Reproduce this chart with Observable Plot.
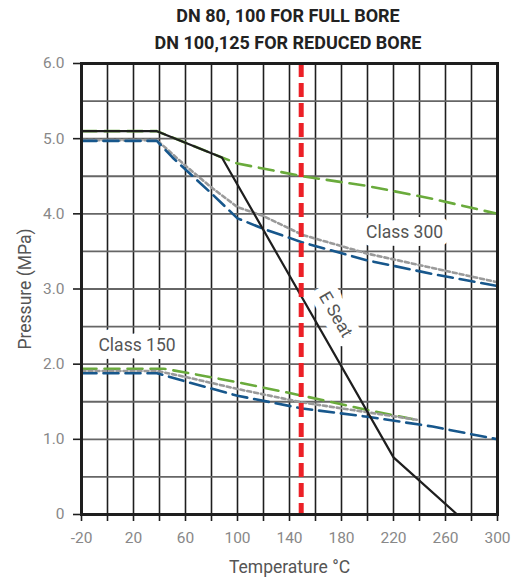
<!DOCTYPE html>
<html><head><meta charset="utf-8">
<script src="https://cdn.jsdelivr.net/npm/d3@7"></script>
<script src="https://cdn.jsdelivr.net/npm/@observablehq/plot@0.6"></script>
<style>
body{margin:0;background:#fff;font-family:Roboto,"DejaVu Sans",sans-serif;}
#title{height:55px;box-sizing:border-box;padding-top:2px;padding-left:61px;text-align:center;font-weight:bold;font-size:18px;color:#222;line-height:27px;}
#chart svg{display:block;}
</style></head><body>
<div id="title"><div>DN 80, 100 FOR FULL BORE</div><div>DN 100,125 FOR REDUCED BORE</div></div>
<div id="chart"></div>
<script>
// ---- data ----
const eSeatT = [-20, 38, 88, 220, 269];
const eSeatP = [5.1, 5.1, 4.75, 0.76, 0];

const c300GreenT = [-20, 38, 88, 100, 150, 200, 250, 300];
const c300GreenP = [5.1, 5.1, 4.75, 4.67, 4.5, 4.37, 4.2, 4.0];
const c300GrayT = [-20, 38, 60, 80, 100, 120, 150, 200, 250, 300];
const c300GrayP = [4.98, 4.98, 4.64, 4.35, 4.09, 3.97, 3.72, 3.47, 3.28, 3.09];
const c300BlueT = [-20, 38, 50, 80, 100, 120, 150, 200, 250, 300];
const c300BlueP = [4.97, 4.97, 4.75, 4.27, 3.94, 3.80, 3.62, 3.38, 3.2, 3.04];

const c150GreenT = [-20, 43, 60, 100, 150, 200, 240];
const c150GreenP = [1.94, 1.94, 1.89, 1.76, 1.58, 1.39, 1.25];
const c150GrayT = [-20, 38, 60, 100, 150, 200, 238];
const c150GrayP = [1.91, 1.91, 1.83, 1.67, 1.49, 1.36, 1.26];
const c150BlueT = [-20, 38, 60, 100, 150, 200, 250, 300];
const c150BlueP = [1.88, 1.88, 1.77, 1.58, 1.41, 1.3, 1.17, 1.0];

const designTemp = [149];
const xTicks = [-20, 0, 20, 40, 60, 80, 100, 120, 140, 160, 180, 200, 220, 240, 260, 280, 300];
const xLabels = [-20, 20, 60, 100, 140, 180, 220, 260, 300];
const yTicks = [0, 1, 2, 3, 4, 5, 6];
const yGrid = [0.5, 1, 1.5, 2, 2.5, 3, 3.5, 4, 4.5, 5, 5.5];

const labels = [
  {text: "Class 300", t: 228.5, p: 3.75, rotate: 0},
  {text: "Class 150", t: 22.7, p: 2.25, rotate: 0},
  {text: "E Seat", t: 175.5, p: 2.66, rotate: 60}
];

const toRows = (T, P) => T.map((t, i) => ({t, p: P[i]}));

const styles = {
  green: {stroke: "#6aab3c", strokeWidth: 2.6, strokeDasharray: "15,8"},
  gray: {stroke: "#9a9a9a", strokeWidth: 2.6, strokeDasharray: "4,3"},
  blue: {stroke: "#17578c", strokeWidth: 2.6, strokeDasharray: "15,7"},
  black: {stroke: "#1e1e1e", strokeWidth: 2.2}
};

const lineMark = (T, P, s) => Plot.line(toRows(T, P), {x: "t", y: "p", ...styles[s], strokeLinejoin: "round"});

const chart = Plot.plot({
  width: 515,
  height: 523,
  marginTop: 8,
  marginBottom: 64,
  marginLeft: 81,
  marginRight: 18,
  style: {fontFamily: "Roboto, 'DejaVu Sans', sans-serif", fontSize: "15.5px", background: "#fff"},
  x: {domain: [-20, 300]},
  y: {domain: [0, 6]},
  marks: [
    Plot.ruleX(xTicks, {stroke: "#1e1e1e", strokeWidth: 1.6}),
    Plot.ruleY(yGrid, {stroke: "#666", strokeWidth: 1.8}),
    Plot.text(labels, {x: "t", y: "p", text: "text", rotate: "rotate", fontSize: 17.5, fill: "white", stroke: "white", strokeWidth: 16}),
    lineMark(c300GreenT, c300GreenP, "green"),
    lineMark(c300GrayT, c300GrayP, "gray"),
    lineMark(c300BlueT, c300BlueP, "blue"),
    lineMark(c150GreenT, c150GreenP, "green"),
    lineMark(c150GrayT, c150GrayP, "gray"),
    lineMark(c150BlueT, c150BlueP, "blue"),
    lineMark(eSeatT, eSeatP, "black"),
    Plot.ruleX(designTemp, {stroke: "#ec2027", strokeWidth: 5, strokeDasharray: "14,6"}),
    Plot.text(labels, {x: "t", y: "p", text: "text", rotate: "rotate", fontSize: 17.5, fill: "#555"}),
    Plot.frame({stroke: "#1e1e1e", strokeWidth: 3}),
    Plot.axisX({ticks: xTicks, tickSize: 7, tickPadding: 10, stroke: "#1e1e1e", strokeWidth: 1.6, fill: "#888",
      tickFormat: d => xLabels.includes(d) ? String(d) : "", label: null}),
    Plot.axisY({ticks: yTicks, tickSize: 8, tickPadding: 9, stroke: "#1e1e1e", strokeWidth: 1.6, fill: "#888",
      tickFormat: d => d === 0 ? "0" : d.toFixed(1), label: null}),
    Plot.text(["Pressure (MPa)"], {frameAnchor: "left", textAnchor: "middle", lineAnchor: "middle", dx: -56, rotate: -90, fontSize: 17.5, fill: "#555"}),
    Plot.text(["Temperature °C"], {frameAnchor: "bottom", textAnchor: "middle", lineAnchor: "middle", dy: 53, fontSize: 17.5, fill: "#555"})
  ]
});
document.getElementById("chart").appendChild(chart);
</script>
</body></html>
